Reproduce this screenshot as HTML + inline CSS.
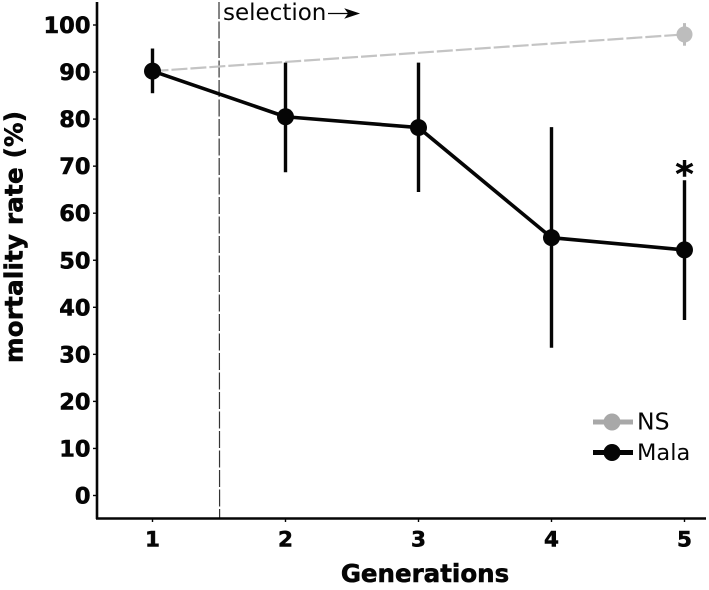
<!DOCTYPE html>
<html>
<head>
<meta charset="utf-8">
<style>
html,body{margin:0;padding:0;background:#fff;}
svg{display:block;}
text{font-family:"DejaVu Sans","Liberation Sans",sans-serif;fill:#050505;}
.b{font-weight:bold;stroke:#050505;stroke-width:0.55px;}
</style>
</head>
<body>
<svg id="chart" width="709" height="590" viewBox="0 0 709 590" xmlns="http://www.w3.org/2000/svg"></svg>
<script>
const generations = [1, 2, 3, 4, 5];
const yTicks = [0, 10, 20, 30, 40, 50, 60, 70, 80, 90, 100];
const malaMean = [90.2, 80.5, 78.2, 54.8, 52.2];
const malaUpper = [95, 92, 92, 78.3, 67];
const malaLower = [85.5, 68.7, 64.5, 31.4, 37.3];
const nsGenerations = [1, 5];
const nsMean = [90.2, 98];
const nsUpper = [90.2, 100.4];
const nsLower = [90.2, 95.6];
const selectionAt = [1.5];

const svg = document.getElementById('chart');
const NS = 'http://www.w3.org/2000/svg';
const xs = g => 152.5 + (g - 1) * 133;
const ys = v => 495.5 - v * 4.705;

function mk(tag, attrs, parent, txt) {
  const e = document.createElementNS(NS, tag);
  for (const k in attrs) e.setAttribute(k, attrs[k]);
  if (txt !== undefined) e.textContent = txt;
  (parent || svg).appendChild(e);
  return e;
}

// selection line
const sel = mk('line', {x1: xs(selectionAt[0]), x2: xs(selectionAt[0]) + 0.6, y1: 2, y2: 518, stroke: '#333', 'stroke-width': 1.2, 'stroke-dasharray': '17 2.5'});



// NS series
const nsPts = nsGenerations.map((g, i) => xs(g) + ',' + ys(nsMean[i])).join(' ');
const nsLine = mk('polyline', {points: nsPts, fill: 'none', stroke: '#c4c4c4', 'stroke-width': 2.2, 'stroke-dasharray': '16 3'});


nsGenerations.forEach((g, i) => {
  if (i === 0) return;
  const err = mk('line', {x1: xs(g), x2: xs(g), y1: ys(nsUpper[i]), y2: ys(nsLower[i]), stroke: '#bdbdbd', 'stroke-width': 3});
  
  
  const pt = mk('circle', {cx: xs(g), cy: ys(nsMean[i]), r: 8, fill: '#bdbdbd'});
  
  
});

// Mala series
const malaPts = generations.map((g, i) => xs(g) + ',' + ys(malaMean[i])).join(' ');
const malaLine = mk('polyline', {points: malaPts, fill: 'none', stroke: '#050505', 'stroke-width': 3.6, 'stroke-linejoin': 'round'});


generations.forEach((g, i) => {
  const err = mk('line', {x1: xs(g), x2: xs(g), y1: ys(malaUpper[i]), y2: ys(malaLower[i]), stroke: '#050505', 'stroke-width': 3.4});
  
  
  const pt = mk('circle', {cx: xs(g), cy: ys(malaMean[i]), r: 8.5, fill: '#050505'});
  
  
});

// axes
const yAxis = mk('line', {x1: 97, x2: 97, y1: 2, y2: 519, stroke: '#050505', 'stroke-width': 2.6});


const xAxis = mk('line', {x1: 96, x2: 706, y1: 518.5, y2: 518.5, stroke: '#050505', 'stroke-width': 2.4});



yTicks.forEach(v => {
  const t = mk('line', {x1: 93, x2: 97, y1: ys(v), y2: ys(v), stroke: '#050505', 'stroke-width': 1.4});
  
  
  const l = mk('text', {x: 90.5, y: ys(v) + 8, 'text-anchor': 'end', 'font-size': 22.5, class: 'b'}, svg, v);
  
  
});
generations.forEach(g => {
  const t = mk('line', {x1: xs(g), x2: xs(g), y1: 519, y2: 522, stroke: '#050505', 'stroke-width': 1.4});
  
  
  const l = mk('text', {x: xs(g), y: 546.5, 'text-anchor': 'middle', 'font-size': 21.5, class: 'b'}, svg, g);
  
  
});

const xTitle = mk('text', {x: 425, y: 582, 'text-anchor': 'middle', 'font-size': 24.5, class: 'b'}, svg, 'Generations');


const yTitle = mk('text', {x: 0, y: 0, transform: 'translate(22.5,237) rotate(-90)', 'text-anchor': 'middle', 'font-size': 24.5, textLength: 252, lengthAdjust: 'spacing', class: 'b'}, svg, 'mortality rate (%)');



// annotations
const selText = mk('text', {x: 223, y: 20, 'font-size': 23}, svg, 'selection');


const arrow = mk('path', {d: 'M328 13.5H350M346 9.5L358 13.5L346 17.5L349 13.5Z', stroke: '#050505', 'stroke-width': 1.3, fill: '#050505'});


const star = mk('text', {x: 684.5, y: 186, 'text-anchor': 'middle', 'font-size': 35, class: 'b'}, svg, '*');



// legend
const l1 = mk('line', {x1: 593, x2: 633, y1: 422, y2: 422, stroke: '#a8a8a8', 'stroke-width': 5});


const c1 = mk('circle', {cx: 612, cy: 422, r: 8.5, fill: '#a8a8a8'});


const t1 = mk('text', {x: 637, y: 429.5, 'font-size': 23.5}, svg, 'NS');


const l2 = mk('line', {x1: 593, x2: 633, y1: 452.5, y2: 452.5, stroke: '#050505', 'stroke-width': 5});


const c2 = mk('circle', {cx: 612, cy: 452.5, r: 8.5, fill: '#050505'});


const t2 = mk('text', {x: 637, y: 460, 'font-size': 22.5}, svg, 'Mala');


</script>
</body>
</html>
